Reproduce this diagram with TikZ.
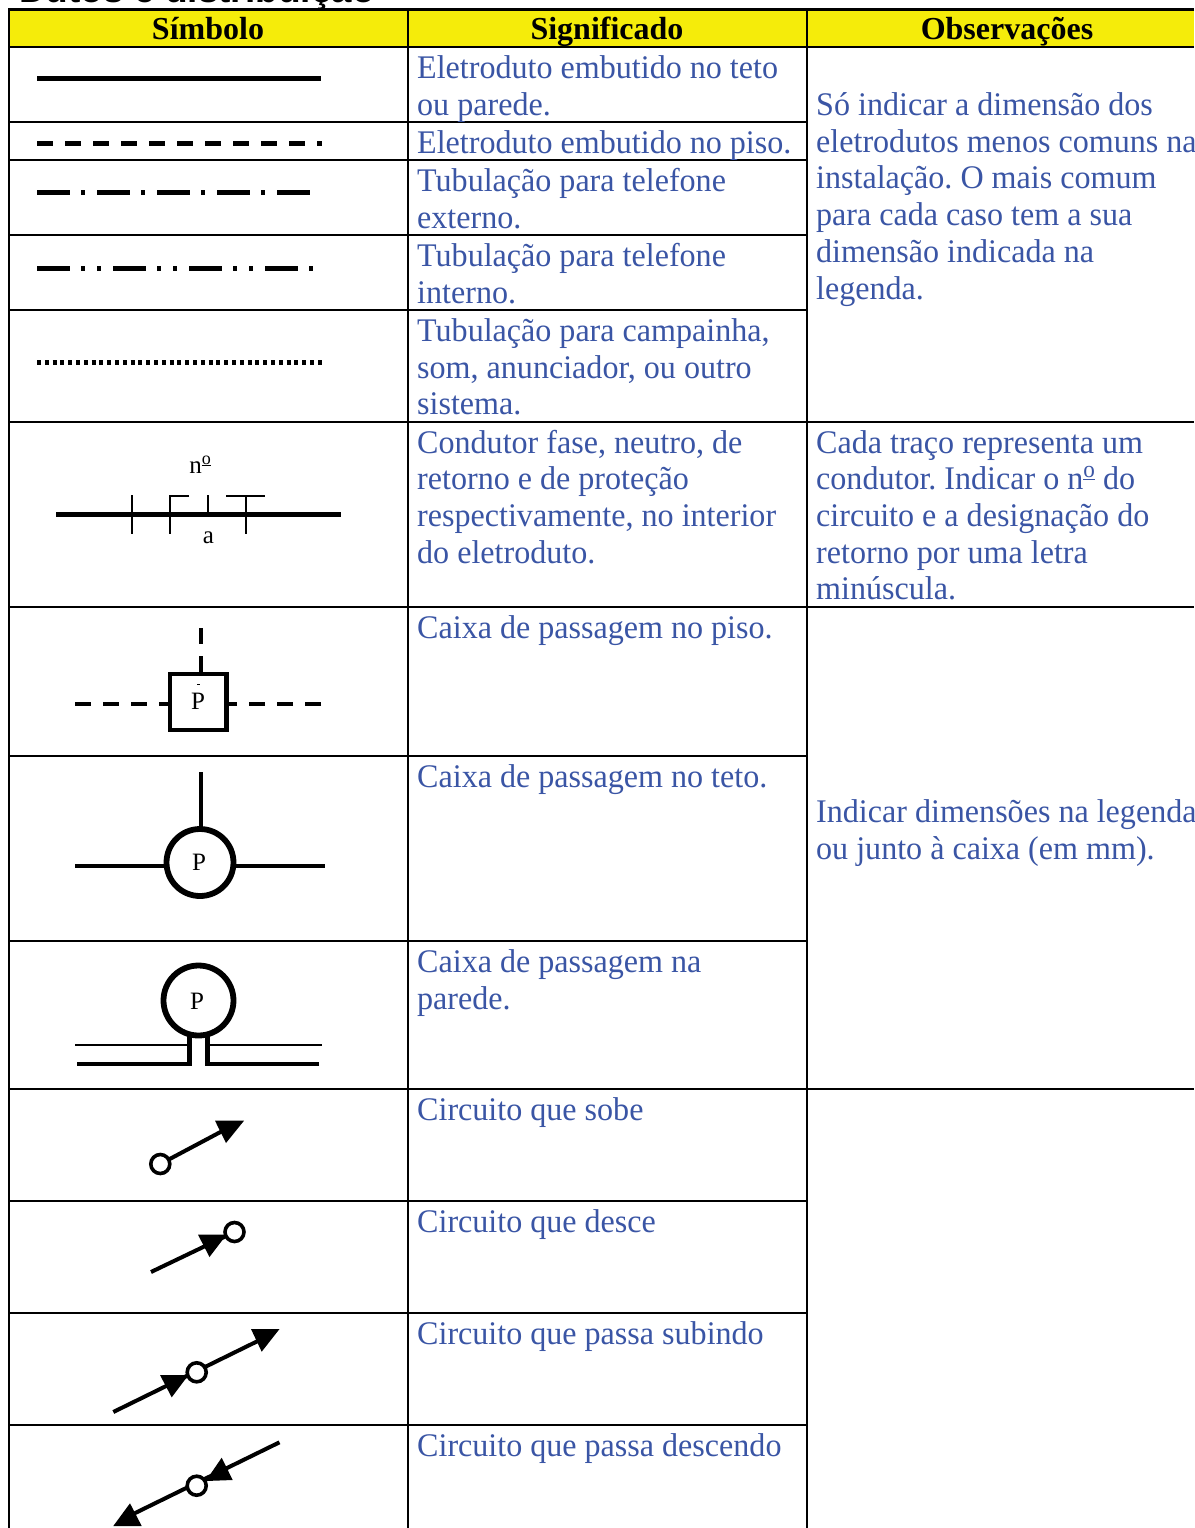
\documentclass[tikz,border=0pt]{standalone}
\usepackage{fontspec}
\setmainfont{Liberation Serif}
\newfontfamily\titlefont{Liberation Sans}
\newfontfamily\bodyfont[FakeStretch=0.972]{Liberation Serif}
\definecolor{headyellow}{HTML}{F5EC0A}
\definecolor{bodyblue}{HTML}{3A55A5}
\newcommand{\numord}{n\raisebox{.36em}{\underline{\scalebox{.72}{o}}}}
\tikzset{
  x=1pt,y=-1pt,
  body/.style={anchor=base west,inner sep=0pt,text=bodyblue,font=\bodyfont\fontsize{33}{37}\selectfont\frenchspacing},
  head/.style={anchor=base,inner sep=0pt,text=black,font=\fontsize{32}{37}\selectfont\bfseries},
  sym/.style={anchor=base,inner sep=0pt,text=black,font=\fontsize{25}{28}\selectfont},
  grid/.style={line width=2.4pt,black},
  heavy/.style={line width=4.2pt,black},
  thin tick/.style={line width=2.2pt,black},
  ring/.style={line width=5.8pt,black,fill=white},
  smallring/.style={line width=3.6pt,black,fill=white},
  tipfill/.style={fill=black,draw=none}
}
\begin{document}
\begin{tikzpicture}
\useasboundingbox (0,0) rectangle (1194,1528);
\clip (0,0) rectangle (1194,1528);
\fill[white] (0,0) rectangle (1194,1528);
% clipped title
\node[anchor=base west,inner sep=0pt,font=\titlefont\bfseries\fontsize{37}{40}\selectfont] (title) at (19,3) {Dutos e distribuição};
% header band
\fill[headyellow] (9,9) rectangle (1194,47);
% table grid
\draw[grid] (1194,9.5) -- (9,9.5) -- (9,1528);
\draw[grid] (408,9) -- (408,1528);
\draw[grid] (807,9) -- (807,1528);
\foreach \yy in {47,422,607,1089} \draw[grid] (9,\yy) -- (1194,\yy);
\foreach \yy in {122,160,235,310,756,941,1201,1313,1425} \draw[grid] (9,\yy) -- (807,\yy);
% headers
\node[head] (h1) at (208,39.5) {Símbolo};
\node[head] (h2) at (607,39.5) {Significado};
\node[head] (h3) at (1007,39.5) {Observações};
% meaning column
\node[body] (m1) at (417,78) {Eletroduto embutido no teto};
\node[body] (m2) at (417,115) {ou parede.};
\node[body] (m3) at (417,153) {Eletroduto embutido no piso.};
\node[body] (m4) at (417,191) {Tubulação para telefone};
\node[body] (m5) at (417,228) {externo.};
\node[body] (m6) at (417,266) {Tubulação para telefone};
\node[body] (m7) at (417,303) {interno.};
\node[body] (m8) at (417,341) {Tubulação para campainha,};
\node[body] (m9) at (417,378) {som, anunciador, ou outro};
\node[body] (m10) at (417,414.5) {sistema.};
\node[body] (m11) at (417,453) {Condutor fase, neutro, de};
\node[body] (m12) at (417,489.5) {retorno e de proteção};
\node[body] (m13) at (417,526) {respectivamente, no interior};
\node[body] (m14) at (417,563) {do eletroduto.};
\node[body] (m15) at (417,638) {Caixa de passagem no piso.};
\node[body] (m16) at (417,787) {Caixa de passagem no teto.};
\node[body] (m17) at (417,972) {Caixa de passagem na};
\node[body] (m18) at (417,1009) {parede.};
\node[body] (m19) at (417,1120) {Circuito que sobe};
\node[body] (m20) at (417,1232) {Circuito que desce};
\node[body] (m21) at (417,1344) {Circuito que passa subindo};
\node[body] (m22) at (417,1456) {Circuito que passa descendo};
% observations column
\node[body] (o1) at (816,115) {Só indicar a dimensão dos};
\node[body] (o2) at (816,152) {eletrodutos menos comuns na};
\node[body] (o3) at (816,188) {instalação. O mais comum};
\node[body] (o4) at (816,225) {para cada caso tem a sua};
\node[body] (o5) at (816,262) {dimensão indicada na};
\node[body] (o6) at (816,299) {legenda.};
\node[body] (o7) at (816,453) {Cada traço representa um};
\node[body] (o8) at (816,489.5) {condutor. Indicar o \numord{} do};
\node[body] (o9) at (816,526) {circuito e a designação do};
\node[body] (o10) at (816,563) {retorno por uma letra};
\node[body] (o11) at (816,599.5) {minúscula.};
\node[body] (o12) at (816,822) {Indicar dimensões na legenda};
\node[body] (o13) at (816,859) {ou junto à caixa (em mm).};
% line styles
\draw[heavy] (37,78.5) -- (321,78.5);
\draw[heavy,dash pattern=on 16pt off 12pt] (37,143.4) -- (321.5,143.4);
\draw[heavy,dash pattern=on 33pt off 11pt on 4pt off 12pt] (37,192.5) -- (310,192.5);
\draw[heavy,dash pattern=on 33pt off 11pt on 4pt off 12pt on 4pt off 12pt] (37,268.4) -- (314,268.4);
\draw[heavy,dash pattern=on 4pt off 3.8pt] (37,362.5) -- (322,362.5);
% conductors symbol
\draw[line width=4.4pt] (56,514.5) -- (341,514.5);
\draw[thin tick] (132,495) -- (132,534);
\draw[thin tick] (189,496) -- (170,496) -- (170,534);
\draw[thin tick] (208,495) -- (208,514);
\draw[thin tick] (226,496) -- (265,496);
\draw[thin tick] (246,496) -- (246,534);
\node[sym] (nlabel) at (200,473) {\numord};
\node[sym] (alabel) at (208.5,543) {a};
% floor box
\draw[line width=4.4pt,dash pattern=on 16pt off 12pt] (75,704) -- (170,704);
\draw[line width=4.4pt,dash pattern=on 16pt off 12pt] (321,704) -- (228,704);
\draw[line width=4.4pt,dash pattern=on 16pt off 12pt] (201,628) -- (201,674);
\draw[line width=4.4pt,fill=white] (170,674) rectangle (226.5,730);
\draw[line width=.8pt] (197,684.5) -- (200,684.5);
\node[sym] (p1) at (198,709) {P};
% ceiling box
\draw[line width=4.4pt] (201,772) -- (201,830);
\draw[line width=4.4pt] (75,866) -- (165,866);
\draw[line width=4.4pt] (235,866) -- (325,866);
\draw[ring] (200,862.5) circle[radius=33.5];
\node[sym] (p2) at (199,870) {P};
% wall box
\draw[line width=2.2pt] (75,1045) -- (189,1045);
\draw[line width=2.2pt] (208,1045) -- (322,1045);
\draw[line width=4.2pt] (77,1064) -- (189.5,1064) -- (189.5,1034);
\draw[line width=4.2pt] (319,1064) -- (207.5,1064) -- (207.5,1034);
\draw[ring] (198.5,1000.5) circle[radius=35];
\node[sym] (p3) at (197,1009) {P};
% circuit up
\draw[line width=4pt] (160.3,1164) -- (228,1128);
\fill[tipfill] (215,1120.7) -- (244,1120.7) -- (226,1143) -- cycle;
\draw[smallring] (160.3,1164) circle[radius=9.5];
% circuit down
\draw[line width=4pt] (151,1272) -- (234.5,1232);
\fill[tipfill] (198,1234.7) -- (226.5,1234.7) -- (209.5,1257) -- cycle;
\draw[smallring] (234.5,1232) circle[radius=9.5];
% passing up
\draw[line width=4pt] (113.3,1412) -- (268,1336);
\fill[tipfill] (251,1329) -- (279.5,1329) -- (261.7,1351.7) -- cycle;
\fill[tipfill] (160,1375) -- (188.5,1375) -- (171.7,1397.3) -- cycle;
\draw[smallring] (196.7,1372.3) circle[radius=9.5];
% passing down
\draw[line width=4pt] (279.5,1442.3) -- (125,1518);
\fill[tipfill] (205.7,1481) -- (221.7,1457.7) -- (232.7,1480) -- cycle;
\fill[tipfill] (113.3,1526) -- (141.7,1526) -- (130,1503.3) -- cycle;
\draw[smallring] (196.7,1485.7) circle[radius=9.5];
\end{tikzpicture}
\end{document}
